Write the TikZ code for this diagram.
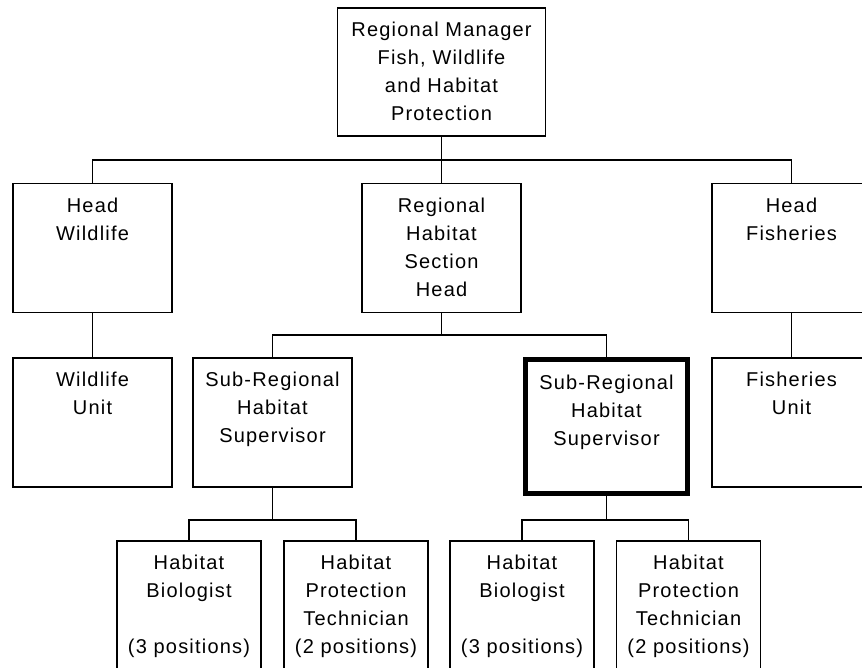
\documentclass[tikz,border=0pt]{standalone}
\usepackage{fontspec}
\setmainfont{Liberation Sans}[LetterSpace=6]
\usepackage{tikz}

\begin{document}
\begin{tikzpicture}[x=1pt, y=-1pt,
    box_node/.style={draw, line width=1.6pt, minimum width=159pt, minimum height=129pt, inner sep=0pt},
    small_node/.style={box_node, minimum width=144pt, minimum height=140pt},
    text_node/.style={anchor=north, align=center, inner sep=0pt, yshift=-15pt, font=\fontsize{20}{28}\selectfont},
    main_line/.style={line width=1.6pt}]
    \useasboundingbox (0,0) rectangle (862,668);
    \clip (0,0) rectangle (862,668);
    \coordinate (b1) at (0,160);
    \coordinate (b2) at (0,335);
    \coordinate (b3) at (0,520);
    \node[box_node, minimum width=208pt, minimum height=128pt] (1) at (441.5,72) {};
    \node[box_node] (2) at (92.5,248) {};
    \node[box_node] (3) at (441.5,248) {};
    \node[box_node] (4) at (791.5,248) {};
    \node[box_node] (5) at (92.5,422.5) {};
    \node[box_node] (6) at (272.5,422.5) {};
    \node[box_node, line width=5pt, minimum width=162pt, minimum height=134pt] (7) at (606.5,426.5) {};
    \node[box_node] (8) at (791.5,422.5) {};
    \node[small_node] (9) at (189,611) {};
    \node[small_node] (10) at (356,611) {};
    \node[small_node] (11) at (522,611) {};
    \node[small_node] (12) at (688.5,611) {};
    \node[text_node] (t1) at (1.north) {Regional Manager\\Fish, Wildlife\\and Habitat\\Protection};
    \node[text_node] (t2) at (2.north) {Head\\Wildlife};
    \node[text_node] (t3) at (3.north) {Regional\\Habitat\\Section\\Head};
    \node[text_node] (t4) at (4.north) {Head\\Fisheries};
    \node[text_node] (t5) at (5.north) {Wildlife\\Unit};
    \node[text_node] (t6) at (6.north) {Sub-Regional\\Habitat\\Supervisor};
    \node[text_node, yshift=-3pt] (t7) at (7.north) {Sub-Regional\\Habitat\\Supervisor};
    \node[text_node] (t8) at (8.north) {Fisheries\\Unit};
    \node[text_node] (t9) at (9.north) {Habitat\\Biologist\\[28pt](3 positions)};
    \node[text_node] (t10) at (10.north) {Habitat\\Protection\\Technician\\(2 positions)};
    \node[text_node] (t11) at (11.north) {Habitat\\Biologist\\[28pt](3 positions)};
    \node[text_node] (t12) at (12.north) {Habitat\\Protection\\Technician\\(2 positions)};
    \draw[main_line] (1.south) -- (3.north);
    \draw[main_line] (1.south) -- (1.south |- b1) -| (2.north);
    \draw[main_line] (1.south) -- (1.south |- b1) -| (4.north);
    \draw[main_line] (2.south) -- (5.north);
    \draw[main_line] (4.south) -- (8.north);
    \draw[main_line] (3.south) -- (3.south |- b2) -| (6.north);
    \draw[main_line] (3.south) -- (3.south |- b2) -| (7.north);
    \draw[main_line] (6.south) -- (6.south |- b3) -| (9.north);
    \draw[main_line] (6.south) -- (6.south |- b3) -| (10.north);
    \draw[main_line] (7.south) -- (7.south |- b3) -| (11.north);
    \draw[main_line] (7.south) -- (7.south |- b3) -| (12.north);
\end{tikzpicture}
\end{document}
